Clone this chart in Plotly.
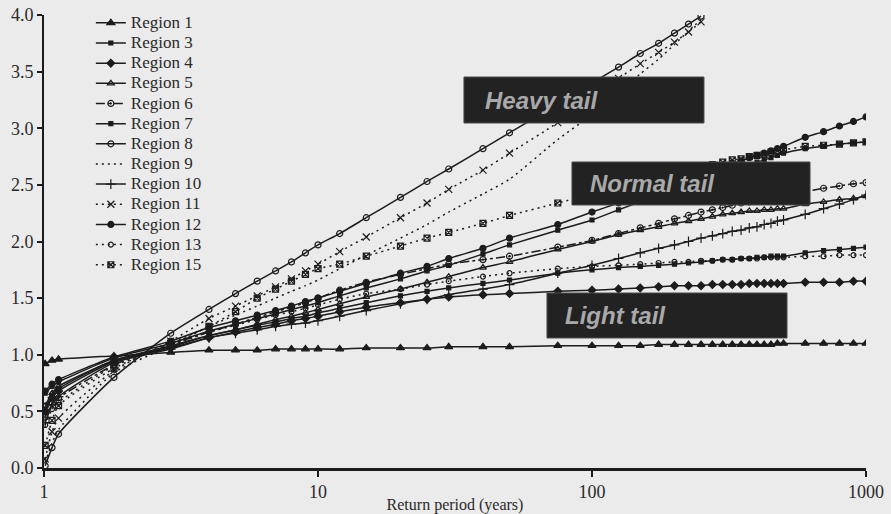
import plotly.graph_objects as go

# Return periods (years) at which the regional growth curves are tabulated
return_period = [1.01, 1.07, 1.13, 1.8, 2.9, 4, 5, 6, 7, 8, 9, 10, 12, 15, 20, 25, 30, 40, 50, 75,
                 100, 125, 150, 175, 200, 225, 250, 275, 300, 325, 350, 375, 400, 425, 450, 475, 500,
                 600, 700, 800, 900, 1000]

# Growth factors per region
region_1 = [0.92, 0.95, 0.96, 0.99, 1.02, 1.04, 1.04, 1.04, 1.05, 1.05, 1.05, 1.05, 1.05, 1.06, 1.06, 1.06,
            1.07, 1.07, 1.07, 1.08, 1.08, 1.08, 1.08, 1.09, 1.09, 1.09, 1.09, 1.09, 1.09, 1.09, 1.09, 1.09,
            1.09, 1.09, 1.09, 1.10, 1.10, 1.10, 1.10, 1.10, 1.10, 1.10]
region_3 = [0.52, 0.64, 0.70, 0.95, 1.07, 1.17, 1.22, 1.26, 1.29, 1.32, 1.34, 1.37, 1.41, 1.46, 1.52, 1.56,
            1.59, 1.63, 1.66, 1.72, 1.75, 1.77, 1.78, 1.79, 1.80, 1.81, 1.82, 1.83, 1.84, 1.84, 1.85, 1.85,
            1.86, 1.86, 1.87, 1.87, 1.87, 1.90, 1.92, 1.93, 1.94, 1.95]
region_4 = [0.50, 0.62, 0.68, 0.94, 1.06, 1.15, 1.20, 1.24, 1.27, 1.30, 1.32, 1.34, 1.38, 1.42, 1.46, 1.49,
            1.51, 1.53, 1.54, 1.56, 1.57, 1.58, 1.59, 1.60, 1.61, 1.61, 1.61, 1.62, 1.62, 1.62, 1.62, 1.63,
            1.63, 1.63, 1.63, 1.63, 1.63, 1.64, 1.64, 1.64, 1.65, 1.65]
region_5 = [0.55, 0.66, 0.72, 0.95, 1.08, 1.17, 1.22, 1.27, 1.31, 1.34, 1.37, 1.40, 1.45, 1.51, 1.58, 1.64,
            1.69, 1.77, 1.82, 1.93, 2.00, 2.06, 2.10, 2.13, 2.16, 2.18, 2.20, 2.22, 2.24, 2.25, 2.26, 2.27,
            2.27, 2.28, 2.28, 2.29, 2.29, 2.33, 2.35, 2.37, 2.38, 2.40]
region_6 = [0.45, 0.57, 0.62, 0.91, 1.09, 1.20, 1.27, 1.33, 1.38, 1.42, 1.46, 1.50, 1.57, 1.64, 1.71, 1.76,
            1.80, 1.84, 1.87, 1.95, 2.01, 2.07, 2.12, 2.16, 2.20, 2.23, 2.26, 2.28, 2.30, 2.32, 2.34, 2.35,
            2.37, 2.38, 2.39, 2.40, 2.41, 2.44, 2.47, 2.49, 2.51, 2.52]
region_7 = [0.66, 0.72, 0.76, 0.97, 1.10, 1.21, 1.27, 1.32, 1.36, 1.40, 1.43, 1.46, 1.52, 1.59, 1.67, 1.74,
            1.79, 1.89, 1.97, 2.10, 2.19, 2.28, 2.35, 2.41, 2.46, 2.50, 2.54, 2.57, 2.60, 2.63, 2.65, 2.68,
            2.70, 2.72, 2.74, 2.76, 2.78, 2.82, 2.84, 2.86, 2.87, 2.88]
region_8 = [0.02, 0.18, 0.30, 0.80, 1.19, 1.40, 1.54, 1.65, 1.74, 1.82, 1.90, 1.97, 2.07, 2.21, 2.39, 2.53,
            2.64, 2.82, 2.96, 3.21, 3.40, 3.54, 3.66, 3.75, 3.84, 3.92, 3.99]
region_9 = [0.05, 0.22, 0.34, 0.84, 1.08, 1.25, 1.35, 1.43, 1.50, 1.56, 1.61, 1.66, 1.76, 1.88, 2.03, 2.15,
            2.26, 2.42, 2.55, 2.90, 3.12, 3.32, 3.48, 3.61, 3.74, 3.86, 3.96]
region_10 = [0.40, 0.56, 0.63, 0.93, 1.05, 1.15, 1.19, 1.22, 1.25, 1.27, 1.28, 1.30, 1.34, 1.39, 1.45, 1.49,
             1.53, 1.58, 1.62, 1.72, 1.79, 1.85, 1.90, 1.94, 1.97, 2.00, 2.03, 2.05, 2.07, 2.09, 2.10, 2.12,
             2.13, 2.15, 2.16, 2.18, 2.19, 2.24, 2.29, 2.33, 2.37, 2.41]
region_11 = [0.08, 0.32, 0.44, 0.86, 1.12, 1.32, 1.43, 1.52, 1.60, 1.67, 1.74, 1.80, 1.91, 2.04, 2.21, 2.34,
             2.46, 2.63, 2.78, 3.05, 3.28, 3.44, 3.57, 3.67, 3.76, 3.85, 3.94]
region_12 = [0.68, 0.74, 0.78, 0.98, 1.12, 1.24, 1.30, 1.35, 1.39, 1.43, 1.47, 1.50, 1.56, 1.63, 1.72, 1.78,
             1.85, 1.94, 2.03, 2.15, 2.26, 2.34, 2.41, 2.47, 2.52, 2.56, 2.60, 2.63, 2.66, 2.69, 2.71, 2.74,
             2.76, 2.78, 2.80, 2.82, 2.84, 2.92, 2.97, 3.02, 3.06, 3.10]
region_13 = [0.38, 0.52, 0.58, 0.90, 1.08, 1.20, 1.26, 1.31, 1.35, 1.38, 1.41, 1.44, 1.49, 1.54, 1.58, 1.62,
             1.65, 1.69, 1.72, 1.76, 1.78, 1.79, 1.80, 1.81, 1.82, 1.82, 1.83, 1.83, 1.84, 1.84, 1.85, 1.85,
             1.85, 1.86, 1.86, 1.86, 1.86, 1.87, 1.87, 1.88, 1.88, 1.88]
region_15 = [0.20, 0.42, 0.55, 0.88, 1.10, 1.25, 1.38, 1.50, 1.58, 1.65, 1.71, 1.76, 1.80, 1.87, 1.96, 2.03,
             2.08, 2.16, 2.23, 2.34, 2.42, 2.48, 2.53, 2.57, 2.61, 2.64, 2.66, 2.68, 2.70, 2.72, 2.73, 2.75,
             2.76, 2.77, 2.79, 2.80, 2.81, 2.84, 2.85, 2.86, 2.87, 2.88]

region_names = ["Region 1", "Region 3", "Region 4", "Region 5", "Region 6", "Region 7", "Region 8",
                "Region 9", "Region 10", "Region 11", "Region 12", "Region 13", "Region 15"]
region_values = [region_1, region_3, region_4, region_5, region_6, region_7, region_8,
                 region_9, region_10, region_11, region_12, region_13, region_15]

tail_labels = ["Heavy tail", "Normal tail", "Light tail"]
x_tick_values = [1, 10, 100, 1000]
x_tick_labels = ["1", "10", "100", "1000"]

# Line / marker styling for each region: (dash, marker symbol, marker size)
DOTS = "2px,4px"
styles = {
    "Region 1": ("solid", "triangle-up", 7),
    "Region 3": ("solid", "square", 4),
    "Region 4": ("solid", "diamond", 6),
    "Region 5": ("solid", "triangle-up-open", 6),
    "Region 6": ("dashdot", "circle-open-dot", 6),
    "Region 7": ("solid", "square", 4),
    "Region 8": ("solid", "circle-open", 6),
    "Region 9": (DOTS, None, 0),
    "Region 10": ("solid", "cross-thin-open", 7),
    "Region 11": (DOTS, "x-thin-open", 7),
    "Region 12": ("solid", "circle", 6),
    "Region 13": (DOTS, "circle-open", 5),
    "Region 15": (DOTS, "square-x-open", 6),
}

INK = "#1c1c1c"
TEXT = "#2a2a2a"
BG = "#ebebeb"
SERIF = "Liberation Serif"

fig = go.Figure()
for name, vals in zip(region_names, region_values):
    dash, symbol, size = styles[name]
    xs = return_period[:len(vals)]
    mode = "lines+markers" if symbol else "lines"
    marker = dict(symbol=symbol, size=size, color=INK,
                  line=dict(color=INK, width=1.2)) if symbol else None
    fig.add_trace(go.Scatter(
        x=xs, y=vals, mode=mode,
        # the legend row spacing follows legend.font.size; the label itself is set larger
        name=f'<span style="font-size:17px">{name}</span>',
        line=dict(color=INK, width=1.5, dash=dash, shape="spline", smoothing=0.6),
        marker=marker,
    ))

# Dark label boxes, in paper coordinates of the plotting area: (x0, x1, y0, y1, text inset)
boxes = [
    (0.5109, 0.8029, 0.7616, 0.8631, 0.023),
    (0.6423, 0.9319, 0.5806, 0.6755, 0.019),
    (0.6119, 0.9039, 0.2870, 0.3863, 0.019),
]
for (x0, x1, y0, y1, inset), label in zip(boxes, tail_labels):
    fig.add_shape(type="rect", xref="paper", yref="paper", x0=x0, x1=x1, y0=y0, y1=y1,
                  fillcolor="#222222", line=dict(color="#4a4a4a", width=1), layer="above")
    fig.add_annotation(xref="paper", yref="paper", x=x0 + inset, y=(y0 + y1) / 2,
                       xanchor="left", yanchor="middle", text=label, showarrow=False,
                       font=dict(family="Liberation Sans", size=24, color="#a9a9a9",
                                 weight="bold", style="italic"))

axis_font = dict(family=SERIF, size=18, color=TEXT)
fig.update_layout(
    width=891, height=514,
    margin=dict(l=44, r=25, t=15, b=46, autoexpand=False),
    paper_bgcolor=BG, plot_bgcolor=BG,
    showlegend=True,
    legend=dict(x=0.057, y=1.016, xanchor="left", yanchor="top",
                bgcolor="rgba(0,0,0,0)", borderwidth=0, maxheight=500,
                font=dict(family=SERIF, size=13.2, color=TEXT),
                tracegroupgap=0, itemwidth=30),
    xaxis=dict(type="log", range=[0, 3], tickvals=x_tick_values, ticktext=x_tick_labels,
               ticks="outside", ticklen=6, tickwidth=1.5, tickcolor=INK, automargin=False,
               showline=True, linewidth=2.5, linecolor=INK, showgrid=False, zeroline=False,
               tickfont=axis_font,
               title=dict(text="Return period (years)", standoff=0,
                          font=dict(family=SERIF, size=16, color=TEXT))),
    yaxis=dict(range=[0, 4], dtick=0.5, tickformat=".1f", automargin=False,
               ticks="outside", ticklen=5, tickwidth=1.5, tickcolor=INK,
               showline=True, linewidth=2, linecolor=INK, showgrid=False, zeroline=False,
               tickfont=axis_font),
)

fig.write_html("out.html")
